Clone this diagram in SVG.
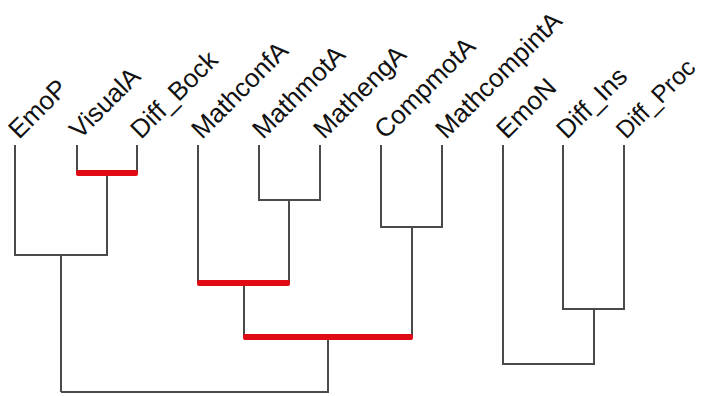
<svg xmlns="http://www.w3.org/2000/svg" width="703" height="396" viewBox="0 0 703 396">
<style>
.lbl{font-family:"Liberation Sans",Arial,sans-serif;font-size:26px;fill:#111}
.ln{fill:none;stroke:#4a4a4a;stroke-width:2}
.red{fill:#e00a14}
</style>
<rect width="703" height="396" fill="#fff"/>
<g id="connectors">
<polyline class="ln" points="15,145 15,255 107,255 107,173"/>
<line class="ln" x1="77" y1="145" x2="77" y2="173"/>
<line class="ln" x1="137" y1="145" x2="137" y2="173"/>
<line class="ln" x1="61" y1="255" x2="61" y2="392"/>
<polyline class="ln" points="259,145 259,200 320,200 320,145"/>
<line class="ln" x1="289" y1="200" x2="289" y2="283"/>
<line class="ln" x1="198" y1="145" x2="198" y2="283"/>
<line class="ln" x1="244" y1="283" x2="244" y2="337"/>
<polyline class="ln" points="381,145 381,227 442,227 442,145"/>
<line class="ln" x1="412" y1="227" x2="412" y2="337"/>
<polyline class="ln" points="61,392 328,392 328,337"/>
<polyline class="ln" points="563,145 563,309 624,309 624,145"/>
<polyline class="ln" points="503,145 503,364 594,364 594,309"/>
<rect class="red" x="76" y="170" width="62" height="6" rx="2"/>
<rect class="red" x="197" y="280" width="93" height="6" rx="2"/>
<rect class="red" x="243" y="334" width="170" height="6" rx="2"/>
</g>
<g id="EmoP"><text class="lbl" transform="translate(19,140) rotate(-45)">EmoP</text></g>
<g id="VisualA"><text class="lbl" transform="translate(80,140) rotate(-45)">VisualA</text></g>
<g id="Diff_Bock"><text class="lbl" transform="translate(141,140) rotate(-45)">Diff_Bock</text></g>
<g id="MathconfA"><text class="lbl" transform="translate(202,140) rotate(-45)">MathconfA</text></g>
<g id="MathmotA"><text class="lbl" transform="translate(263,140) rotate(-45)">MathmotA</text></g>
<g id="MathengA"><text class="lbl" transform="translate(324,140) rotate(-45)">MathengA</text></g>
<g id="CompmotA"><text class="lbl" transform="translate(385,140) rotate(-45)">CompmotA</text></g>
<g id="MathcompintA"><text class="lbl" transform="translate(446,140) rotate(-45)">MathcompintA</text></g>
<g id="EmoN"><text class="lbl" transform="translate(507,140) rotate(-45)">EmoN</text></g>
<g id="Diff_Ins"><text class="lbl" transform="translate(567,140) rotate(-45)">Diff_Ins</text></g>
<g id="Diff_Proc"><text class="lbl" style="font-size:24.5px" transform="translate(626,140) rotate(-45)">Diff_Proc</text></g>
</svg>
